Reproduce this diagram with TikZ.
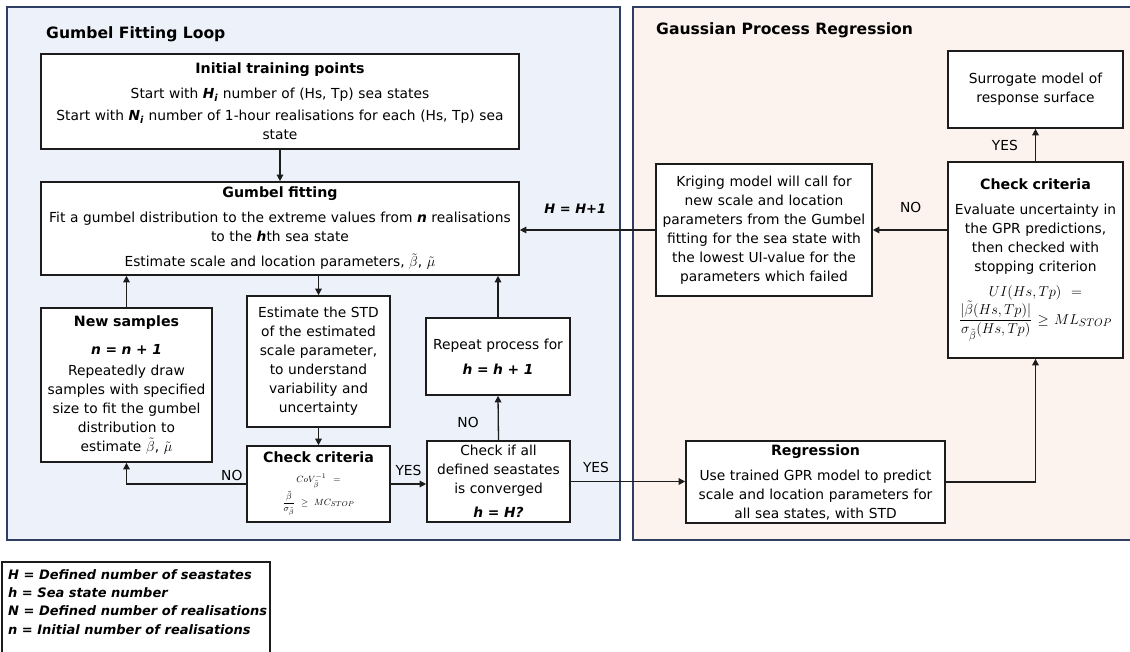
\documentclass[tikz,border=0pt]{standalone}
\usepackage{fontspec}
\usepackage{amsmath}
\setmainfont{DejaVu Sans}
\usetikzlibrary{arrows.meta}

\definecolor{gumbelbg}{RGB}{237,241,249}
\definecolor{gprbg}{RGB}{252,243,238}
\definecolor{panelline}{RGB}{47,62,99}
\definecolor{boxline}{RGB}{28,28,28}

\newcommand{\bodyfont}{\fontsize{13.8}{19}\selectfont}
\newcommand{\bitxt}[1]{\textbf{\textit{#1}}}
\newcommand{\boxhead}[1]{{\fontsize{14.2}{19}\selectfont\bfseries #1}}

\begin{document}
\begin{tikzpicture}[x=1pt,y=-1pt,
  panel/.style={draw=panelline, line width=1.6pt},
  box/.style={draw=boxline, fill=white, line width=1.6pt, inner sep=0pt,
              align=center, font=\bodyfont},
  arr/.style={draw=boxline, line width=1.3pt, -{Triangle[length=6.5pt,width=6.5pt]}},
  lab/.style={font=\bodyfont, inner sep=1pt},
  eqlab/.style={font=\fontsize{13}{16}\selectfont\bfseries\itshape, inner sep=1pt},
  paneltitle/.style={anchor=west, inner sep=0pt, font=\fontsize{15.6}{18}\selectfont\bfseries}
]
\useasboundingbox (0,0) rectangle (1130,652);

% background panels
\draw[panel, fill=gumbelbg] (7,7) rectangle (620,540);
\draw[panel, fill=gprbg] (633,7) rectangle (1136,540);

\node[paneltitle] (titleL) at (46,34) {Gumbel Fitting Loop};
\node[paneltitle] (titleR) at (656,30) {Gaussian Process Regression};

% Gumbel fitting loop
\node[box, minimum width=478pt, minimum height=95pt, text width=474pt] (init) at (280,101.5)
  {\boxhead{Initial training points}\\[6pt]
   Start with \bitxt{H\textsubscript{i}} number of (Hs, Tp) sea states\\[3pt]
   Start with \bitxt{N\textsubscript{i}} number of 1-hour realisations for each (Hs, Tp) sea\\
   state};

\node[box, minimum width=478pt, minimum height=93pt, text width=474pt] (gum) at (280,228.5)
  {\boxhead{Gumbel fitting}\\[6pt]
   Fit a gumbel distribution to the extreme values from \bitxt{n} realisations\\
   to the \bitxt{h}th sea state\\[6pt]
   Estimate scale and location parameters, $\tilde{\beta}$, $\tilde{\mu}$};

\node[box, minimum width=171pt, minimum height=154pt, text width=168pt] (news) at (126.5,385)
  {\boxhead{New samples}\\[9pt]
   \bitxt{n = n + 1}\\[2pt]
   Repeatedly draw\\
   samples with specified\\
   size to fit the gumbel\\
   distribution to\\
   estimate $\tilde{\beta}$, $\tilde{\mu}$};

\node[box, minimum width=143pt, minimum height=131pt, text width=140pt] (std) at (318.5,361.5)
  {Estimate the STD\\
   of the estimated\\
   scale parameter,\\
   to understand\\
   variability and\\
   uncertainty};

\node[box, minimum width=143pt, minimum height=76pt, text width=140pt] (chkl) at (318.5,484)
  {\boxhead{Check criteria}\\[1pt]
   {\fontsize{9.5}{11}\selectfont $CoV_{\tilde{\beta}}^{-1} =$}\\[1pt]
   {\fontsize{9.5}{11}\selectfont $\dfrac{\tilde{\beta}}{\sigma_{\tilde{\beta}}} \geq MC_{STOP}$}};

\node[box, minimum width=144pt, minimum height=77pt, text width=141pt] (rep) at (498,356.5)
  {Repeat process for\\[6pt]
   \bitxt{h = h + 1}};

\node[box, minimum width=143pt, minimum height=81pt, text width=140pt] (chkif) at (498.5,481.5)
  {Check if all\\
   defined seastates\\
   is converged\\[5pt]
   \bitxt{h = H?}};

% Gaussian process regression
\node[box, minimum width=175pt, minimum height=77pt, text width=172pt] (sur) at (1035.5,89.5)
  {Surrogate model of\\
   response surface};

\node[box, minimum width=175pt, minimum height=196pt, text width=172pt] (chkr) at (1035.5,260)
  {\boxhead{Check criteria}\\[6pt]
   Evaluate uncertainty in\\
   the GPR predictions,\\
   then checked with\\
   stopping criterion\\[6pt]
   {\fontsize{15}{18}\selectfont $UI(Hs,Tp) =$}\\
   {\fontsize{15}{18}\selectfont $\dfrac{|\tilde{\beta}(Hs,Tp)|}{\sigma_{\tilde{\beta}}(Hs,Tp)} \geq ML_{STOP}$}};

\node[box, minimum width=216pt, minimum height=132pt, text width=213pt] (krig) at (764,230)
  {Kriging model will call for\\
   new scale and location\\
   parameters from the Gumbel\\
   fitting for the sea state with\\
   the lowest UI-value for the\\
   parameters which failed};

\node[box, minimum width=259pt, minimum height=82pt, text width=256pt] (reg) at (815.5,482)
  {\boxhead{Regression}\\[6pt]
   Use trained GPR model to predict\\
   scale and location parameters for\\
   all sea states, with STD};

% connectors inside the fitting loop
\draw[arr] (init.south) -- (gum.north);
\draw[arr] (gum.south -| std.north) -- (std.north);
\draw[arr] (std.south) -- (chkl.north);
\draw[arr] (chkl.west) -| node[lab, pos=0.06, above=2pt] {NO} (news.south);
\draw[arr] (news.north) -- (news.north |- gum.south);
\draw[arr] (chkl.east) -- node[lab, pos=0.5, above=7pt] {YES} (chkl.east -| chkif.west);
\draw[arr] (chkif.north) -- node[lab, pos=0.41, left=18pt] {NO} (rep.south);
\draw[arr] (rep.north) -- (rep.north |- gum.south);

% connectors to and within the regression
\draw[arr] (chkif.east) -- node[lab, pos=0.22, above=7pt] {YES} (chkif.east -| reg.west);
\draw[arr] (reg.east) -| (chkr.south);
\draw[arr] (chkr.north) -- node[lab, pos=0.5, left=16pt] {YES} (sur.south);
\draw[arr] (krig.east -| chkr.west) -- node[lab, pos=0.49, above=16pt] {NO} (krig.east);
\draw[arr] (krig.west) -- node[eqlab, pos=0.59, above=15pt] {H = H+1} (krig.west -| gum.east);

% symbol legend
\draw[draw=boxline, line width=1.2pt] (2,562) rectangle (270,662);
\node[anchor=north west, align=left, inner sep=0pt,
      font=\fontsize{13}{18.4}\selectfont\bfseries\itshape] (legend) at (8,569)
  {H = Defined number of seastates\\
   h = Sea state number\\
   N = Defined number of realisations\\
   n = Initial number of realisations};
\end{tikzpicture}
\end{document}
